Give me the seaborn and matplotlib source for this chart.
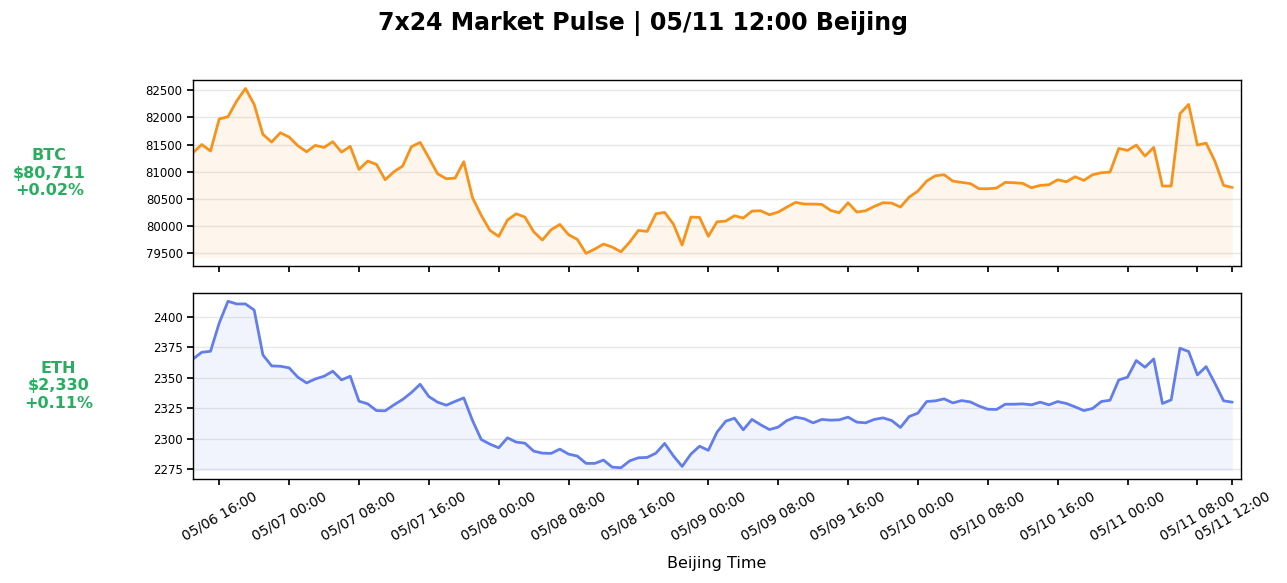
import matplotlib
matplotlib.use("Agg")
import matplotlib.pyplot as plt
import matplotlib.dates as mdates
import seaborn as sns
import pandas as pd
import numpy as np

start_time = "2025-05-06 13:00"
n_hours = 120

btc_prices = [
    81350, 81500, 81380, 81970, 82010, 82300, 82530, 82237, 81686, 81545,
    81716, 81637, 81477, 81367, 81484, 81447, 81551, 81361, 81465, 81043,
    81196, 81135, 80853, 81000, 81104, 81459, 81539, 81257, 80963, 80871,
    80883, 81184, 80522, 80198, 79922, 79812, 80112, 80228, 80167, 79898,
    79745, 79934, 80032, 79843, 79757, 79500, 79579, 79671, 79616, 79530,
    79708, 79922, 79904, 80228, 80253, 80039, 79653, 80167, 80161, 79815,
    80080, 80094, 80192, 80149, 80277, 80283, 80210, 80259, 80351, 80437,
    80406, 80406, 80400, 80290, 80247, 80430, 80259, 80283, 80363, 80430,
    80424, 80351, 80534, 80645, 80828, 80926, 80945, 80828, 80804, 80783,
    80688, 80688, 80700, 80804, 80798, 80786, 80706, 80749, 80761, 80853,
    80816, 80908, 80841, 80945, 80982, 80994, 81428, 81392, 81490, 81288,
    81447, 80737, 80737, 82065, 82237, 81490, 81526, 81196, 80749, 80711,
]

eth_prices = [
    2365.5, 2371.0, 2371.8, 2395.1, 2412.9, 2410.7, 2410.7, 2405.7, 2368.8, 2359.8,
    2359.5, 2358.2, 2350.5, 2345.8, 2349.1, 2351.3, 2355.4, 2348.3, 2351.3, 2330.8,
    2328.6, 2323.1, 2322.9, 2327.8, 2332.2, 2337.9, 2344.7, 2334.6, 2330.0, 2327.5,
    2330.6, 2333.5, 2314.9, 2299.3, 2295.5, 2292.5, 2300.7, 2297.2, 2296.3, 2289.8,
    2288.1, 2287.9, 2291.4, 2287.3, 2285.7, 2279.7, 2279.7, 2282.4, 2276.6, 2276.1,
    2281.8, 2284.3, 2284.6, 2288.1, 2296.1, 2285.9, 2277.2, 2287.3, 2293.8, 2290.4,
    2305.4, 2314.4, 2316.8, 2307.3, 2315.8, 2311.4, 2307.5, 2309.5, 2314.9, 2317.7,
    2316.3, 2313.0, 2315.8, 2315.2, 2315.5, 2317.7, 2313.6, 2313.0, 2315.8, 2317.1,
    2314.9, 2309.2, 2318.2, 2321.0, 2330.5, 2331.1, 2332.7, 2329.4, 2331.3, 2330.2,
    2326.8, 2324.2, 2324.0, 2328.3, 2328.3, 2328.6, 2327.8, 2330.0, 2327.8, 2330.5,
    2328.9, 2326.1, 2323.1, 2324.8, 2330.5, 2331.6, 2348.3, 2350.5, 2364.2, 2358.7,
    2365.5, 2328.9, 2331.9, 2374.3, 2371.6, 2352.4, 2359.2, 2345.6, 2331.1, 2330.0,
]

assets = ["BTC", "ETH"]
labels = ["BTC\n$80,711\n+0.02%", "ETH\n$2,330\n+0.11%"]
colors = ["#f7931a", "#627eea"]
title = "7x24 Market Pulse | 05/11 12:00 Beijing"
tick_times = ["2025-05-06 16:00", "2025-05-07 00:00", "2025-05-07 08:00",
              "2025-05-07 16:00", "2025-05-08 00:00", "2025-05-08 08:00",
              "2025-05-08 16:00", "2025-05-09 00:00", "2025-05-09 08:00",
              "2025-05-09 16:00", "2025-05-10 00:00", "2025-05-10 08:00",
              "2025-05-10 16:00", "2025-05-11 00:00", "2025-05-11 08:00",
              "2025-05-11 12:00"]

times = pd.date_range(start_time, periods=n_hours, freq="h")
df = pd.DataFrame({"time": times, "BTC": btc_prices, "ETH": eth_prices})

sns.set_theme(style="ticks")
plt.rcParams["font.family"] = ["DejaVu Sans"]
plt.rcParams["text.color"] = "black"
plt.rcParams["axes.labelcolor"] = "black"

fig, axes = plt.subplots(2, 1, figsize=(12.87, 5.83), dpi=100, sharex=True)
fig.subplots_adjust(left=0.15, right=0.9643, top=0.8628, bottom=0.1784, hspace=0.143)

for ax, asset, lab, col in zip(axes, assets, labels, colors):
    sns.lineplot(data=df, x="time", y=asset, ax=ax, color=col, linewidth=2)
    base = df[asset].min() * 0.999
    ax.fill_between(df["time"], df[asset], base, color=col, alpha=0.08, linewidth=0)
    ax.grid(axis="y", color="#e6e6e6", linewidth=1, alpha=0.9)
    ax.set_axisbelow(True)
    for s in ax.spines.values():
        s.set_color("black")
        s.set_linewidth(1.0)
    ax.tick_params(axis="y", labelsize=8.5, colors="black", length=4)
    ax.tick_params(axis="x", labelsize=10, colors="black", length=4)
    ax.set_ylabel(lab, rotation=0, ha="right", va="center", multialignment="center",
                  color="#27ae60", fontsize=11.5, fontweight="bold", labelpad=43)
    ax.set_xlabel("")

axes[0].yaxis.set_major_locator(plt.MultipleLocator(500))
axes[1].yaxis.set_major_locator(plt.MultipleLocator(25))

axes[1].set_xlim(times[0], times[-1] + pd.Timedelta(hours=1))
axes[1].set_xticks(pd.to_datetime(tick_times))
axes[1].xaxis.set_major_formatter(mdates.DateFormatter("%m/%d %H:%M"))
plt.setp(axes[1].get_xticklabels(), rotation=30, ha="center")
axes[1].set_xlabel("Beijing Time", fontsize=11.5, color="black", labelpad=9)

fig.suptitle(title, fontsize=17, fontweight="bold", y=0.96, va="center", color="black")

fig.savefig("out.png", dpi=100)
